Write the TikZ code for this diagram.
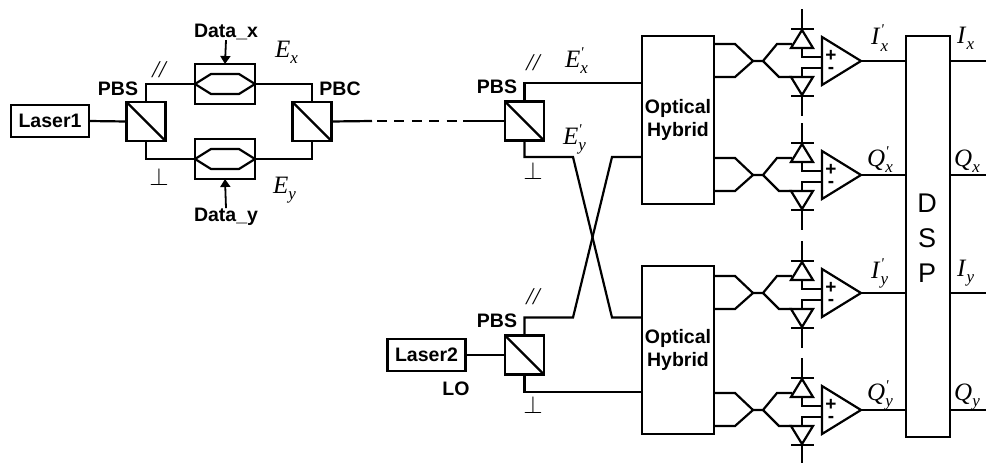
\documentclass[tikz,border=0pt]{standalone}
\usepackage{fontspec}
\setmainfont{Liberation Sans}
\newfontfamily\sigfont{Liberation Serif}
\usetikzlibrary{arrows.meta}
\newcommand\sigl[2]{{\sigfont\fontsize{25}{25}\selectfont\textit{#1}\raisebox{-6pt}{\fontsize{17}{17}\selectfont\textit{#2}}}}
\newcommand\sigp[2]{{\sigfont\fontsize{25}{25}\selectfont\textit{#1}\rlap{\raisebox{10pt}{\fontsize{15}{15}\selectfont\textit{'}}}\raisebox{-6pt}{\fontsize{17}{17}\selectfont\textit{#2}}}}
\tikzset{
  x=1pt,y=-1pt,
  wire/.style={line width=2.2pt,line join=miter},
  blk/.style={draw,line width=2.2pt,inner sep=0pt,outer sep=0pt,rectangle},
  splitter/.style={blk,minimum width=39pt,minimum height=39pt},
  mzbox/.style={blk,minimum width=60pt,minimum height=40pt},
  laserbox/.style={blk,minimum width=78pt,minimum height=32pt,font=\fontsize{19.5}{19.5}\selectfont\bfseries},
  hybrid/.style={blk,minimum width=72pt,minimum height=168pt,align=center,font=\fontsize{19.5}{23}\selectfont\bfseries},
  lab/.style={inner sep=0pt,font=\fontsize{19.5}{19.5}\selectfont\bfseries},
  sig/.style={inner sep=0pt,anchor=base west},
  pol/.style={inner sep=0pt,anchor=base,font=\fontsize{24}{24}\selectfont},
  par/.style={inner sep=0pt,font=\sigfont\fontsize{24}{24}\selectfont\itshape},
  arr/.style={line width=1.8pt,-{Triangle[length=8pt,width=10pt]}},
  dsptext/.style={inner sep=0pt,font=\fontsize{27}{27}\selectfont},
  signtext/.style={inner sep=0pt,align=center,font=\fontsize{19}{12.5}\selectfont\bfseries},
}
\begin{document}
\begin{tikzpicture}
\useasboundingbox (0,0) rectangle (986,463);
% transmitter
\node[laserbox] (laser1) at (50,121) {Laser1};
\node[splitter] (pbs1) at (146,121.5) {};
\node[splitter] (pbc) at (312,121.5) {};
\node[mzbox] (mzx) at (225,84) {};
\node[mzbox] (mzy) at (225,159) {};
\draw[wire] (pbs1.north west) -- (pbs1.south east);
\draw[wire] (pbc.north west) -- (pbc.south east);
\foreach \m in {mzx,mzy}{
  \draw[wire] (\m.west) -- ++(16,-10) -- ++(28,0) -- (\m.east) -- ++(-16,10) -- ++(-28,0) -- cycle;
}
\draw[wire] (laser1.east) -- (pbs1.west);
\draw[wire] (pbs1.north) |- (mzx.west);
\draw[wire] (mzx.east) -| (pbc.north);
\draw[wire] (pbs1.south) |- (mzy.west);
\draw[wire] (mzy.east) -| (pbc.south);
\node[lab] (datax) at (226,32) {Data\_x};
\node[lab] (datay) at (226,217) {Data\_y};
\draw[arr] (datax.south) -- (mzx.north);
\draw[arr] (datay.north) -- (mzy.south);
\node[lab] (lpbs1) at (118,89) {PBS};
\node[lab] (lpbc) at (340,89) {PBC};
\node[par] (par1) at (159,70) {//};
\node[pol] (perp1) at (159,185) {$\perp$};
\node[sig] (ex) at (275,57) {\sigl{E}{x}};
\node[sig] (ey) at (273,193) {\sigl{E}{y}};
% fibre
\node[splitter] (pbs2) at (524.5,121) {};
\draw[wire] (pbs2.north west) -- (pbs2.south east);
\coordinate (d1) at (372,121);
\coordinate (d2) at (377,121);
\coordinate (d3) at (457,121);
\coordinate (d4) at (463,121);
\draw[wire] (pbc.east) -- (d1);
\draw[wire,dash pattern=on 10pt off 7.4pt] (d2) -- (d3);
\draw[wire] (d4) -- (pbs2.west);
\node[lab] (lpbs2) at (497,87) {PBS};
\node[par] (par2) at (533,63) {//};
\node[pol] (perp2) at (533,179) {$\perp$};
\node[sig] (exp) at (565,67) {\sigp{E}{x}};
\node[sig] (eyp) at (563,144) {\sigp{E}{y}};
% local oscillator
\node[laserbox] (laser2) at (426.5,355) {Laser2};
\node[splitter] (pbs3) at (524.5,355) {};
\draw[wire] (pbs3.north west) -- (pbs3.south east);
\draw[wire] (laser2.east) -- (pbs3.west);
\node[lab] (lo) at (456,389) {LO};
\node[lab] (lpbs3) at (497,321) {PBS};
\node[par] (par3) at (533,297) {//};
\node[pol] (perp3) at (533,413) {$\perp$};
% hybrids
\node[hybrid] (h1) at (678,120) {Optical\\Hybrid};
\node[hybrid] (h2) at (678,350) {Optical\\Hybrid};
\coordinate (h1a) at (642,83);
\coordinate (h1b) at (642,157);
\coordinate (h2a) at (642,317.5);
\coordinate (h2b) at (642,392);
\coordinate (c1) at (573,157);
\coordinate (c2) at (612,157);
\coordinate (c3) at (573,317.5);
\coordinate (c4) at (612,317.5);
\draw[wire] (pbs2.north) |- (h1a);
\draw[wire] (pbs2.south) |- (c1) -- (c4) -- (h2a);
\draw[wire] (pbs3.north) |- (c3) -- (c2) -- (h1b);
\draw[wire] (pbs3.south) |- (h2b);
% DSP
\node[blk,minimum width=44pt,minimum height=401pt] (dsp) at (928,236.5) {};
\node[dsptext] (dspd) at (927,203) {D};
\node[dsptext] (dsps) at (927,238) {S};
\node[dsptext] (dspp) at (927,273) {P};
% receiver branches
\foreach \n/\yc in {a/61,b/175,c/293,d/410}{
  \coordinate (\n in1) at (714,\yc-17);
  \coordinate (\n in2) at (714,\yc+16);
  \coordinate (\n j1) at (753,\yc);
  \coordinate (\n j2) at (763,\yc);
  \coordinate (\n t) at (802,\yc-13);
  \coordinate (\n u) at (802,\yc+16);
  \draw[wire] (\n in1) -- ++(21,0) -- (\n j1) -- (\n j2) -- (777,\yc-17) -- (792,\yc-17);
  \draw[wire] (\n in2) -- ++(21,0) -- (\n j1);
  \draw[wire] (\n j2) -- (779,\yc+16) -- (792,\yc+16);
  % photodiodes
  \draw[wire] (\n t) ++(-11,0) -- ++(22,0) -- (802,\yc-31) -- cycle;
  \draw[wire] (791,\yc-32) -- (814,\yc-32);
  \draw[wire] (802,\yc-52) -- (802,\yc-32);
  \draw[wire] (\n u) ++(-11,0) -- ++(22,0) -- (802,\yc+34) -- cycle;
  \draw[wire] (791,\yc+35) -- (814,\yc+35);
  \draw[wire] (802,\yc+35) -- (802,\yc+55);
  % amplifier
  \coordinate (\n p) at (822,\yc-4);
  \coordinate (\n m) at (822,\yc+7);
  \coordinate (\n o) at (861,\yc);
  \draw[wire] (822,\yc-24) -- (\n o) -- (822,\yc+24) -- cycle;
  \draw[wire] (\n t) -- (\n t |- \n p) -- (\n p);
  \draw[wire] (\n u) -- (\n u |- \n m) -- (\n m);
  \node[signtext] (\n sign) at (831,\yc+1) {+\\-};
  % outputs
  \coordinate (\n dspin) at (906,\yc);
  \coordinate (\n out) at (986,\yc);
  \coordinate (\n dspout) at (950,\yc);
  \draw[wire] (\n o) -- (\n dspin);
  \draw[wire] (\n dspout) -- (\n out);
}
\node[sig] (lix) at (871,45) {\sigp{I}{x}};
\node[sig] (lqx) at (867,166) {\sigp{Q}{x}};
\node[sig] (liy) at (871,278) {\sigp{I}{y}};
\node[sig] (lqy) at (867,400) {\sigp{Q}{y}};
\node[sig] (rix) at (957,43) {\sigl{I}{x}};
\node[sig] (rqx) at (954,166) {\sigl{Q}{x}};
\node[sig] (riy) at (957,276) {\sigl{I}{y}};
\node[sig] (rqy) at (954,400) {\sigl{Q}{y}};
\end{tikzpicture}
\end{document}
